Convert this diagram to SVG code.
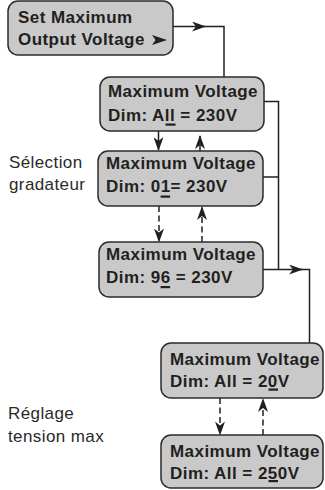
<svg xmlns="http://www.w3.org/2000/svg" width="325" height="490" viewBox="0 0 325 490">
<defs>
<style>
.box{fill:#c9c9c9;stroke:#2b2b2b;stroke-width:1.5}
.bt{font-family:"Liberation Sans",Arial,sans-serif;font-weight:bold;font-size:17px;letter-spacing:0.45px;fill:#231f20}
.lb{font-family:"Liberation Sans",Arial,sans-serif;font-size:17px;letter-spacing:0.4px;fill:#2a2a2a}
.ul{fill:#231f20}
.ln{fill:none;stroke:#231f20;stroke-width:1.5}
.dash{stroke-dasharray:6 3.5}
</style>
<marker id="ah" markerUnits="userSpaceOnUse" viewBox="0 0 14 10" markerWidth="14" markerHeight="10" refX="13" refY="5" orient="auto">
<path d="M0,0 L14,5 L0,10 L4,5 Z" fill="#231f20"/>
</marker>
</defs>
<g id="connectors">
<path class="ln" d="M173,26.5 H205" marker-end="url(#ah)"/>
<path class="ln" d="M204,26.5 H224 V77"/>
<path class="ln" d="M264,101.5 H278.5 V269.5"/>
<path class="ln" d="M263,177 H278.5"/>
<path class="ln" d="M263,269.5 H302" marker-end="url(#ah)"/>
<path class="ln" d="M301,269.5 H309.5 V343"/>
<path class="ln" d="M158.5,131 V150" marker-end="url(#ah)"/>
<path class="ln" d="M200,151 V136" marker-end="url(#ah)"/>
<path class="ln dash" d="M159,206 V241.5" marker-end="url(#ah)"/>
<path class="ln dash" d="M202,242 V207" marker-end="url(#ah)"/>
<path class="ln dash" d="M220,398 V434.5" marker-end="url(#ah)"/>
<path class="ln dash" d="M263,435 V399" marker-end="url(#ah)"/>
</g>
<g id="set-max">
<rect class="box" x="8" y="1" width="165" height="54" rx="10"/>
<text class="bt" x="18" y="23">Set Maximum</text>
<text class="bt" x="18" y="45">Output Voltage</text>
<polygon points="152,35 167,40 152,45 155.5,40" fill="#231f20"/>
</g>
<g id="dim-all">
<rect class="box" x="100" y="77" width="164" height="54" rx="10"/>
<text class="bt" x="108" y="97">Maximum Voltage</text>
<text class="bt" x="108" y="121">Dim: All = 230V</text>
<rect class="ul" x="165.5" y="123.5" width="10" height="2.2"/>
</g>
<g id="dim-01">
<rect class="box" x="98" y="151" width="165" height="55" rx="10"/>
<text class="bt" x="106" y="169">Maximum Voltage</text>
<text class="bt" x="106" y="192">Dim: 01= 230V</text>
<rect class="ul" x="160.6" y="195.5" width="9.5" height="2.2"/>
</g>
<g id="dim-96">
<rect class="box" x="99" y="242" width="164" height="55" rx="10"/>
<text class="bt" x="106" y="260">Maximum Voltage</text>
<text class="bt" x="106" y="283">Dim: 96 = 230V</text>
<rect class="ul" x="160.6" y="286" width="9.5" height="2.2"/>
</g>
<g id="v-20">
<rect class="box" x="161" y="343" width="162" height="55" rx="10"/>
<text class="bt" x="170" y="365">Maximum Voltage</text>
<text class="bt" x="170" y="387">Dim: All = 20V</text>
<rect class="ul" x="268.5" y="388.5" width="9.5" height="2.2"/>
</g>
<g id="v-250">
<rect class="box" x="161" y="435" width="162" height="53" rx="10"/>
<text class="bt" x="170" y="457">Maximum Voltage</text>
<text class="bt" x="170" y="479">Dim: All = 250V</text>
<rect class="ul" x="268.5" y="480" width="9.5" height="2.2"/>
</g>
<g id="labels">
<text class="lb" x="9" y="168">Sélection</text>
<text class="lb" x="9" y="190">gradateur</text>
<text class="lb" x="8" y="419">Réglage</text>
<text class="lb" x="8" y="442">tension max</text>
</g>
</svg>
